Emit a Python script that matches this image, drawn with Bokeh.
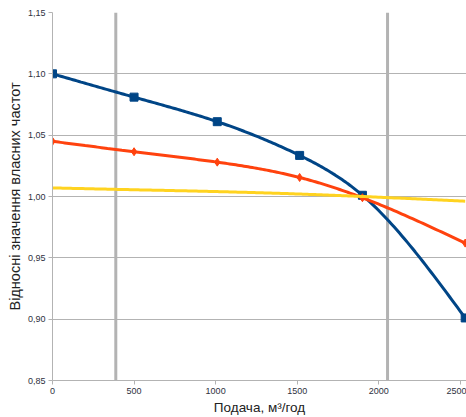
import numpy as np
from bokeh.plotting import figure
from bokeh.models import Range1d, FixedTicker, CustomJSTickFormatter, Span
from bokeh.embed import file_html
from bokeh.resources import INLINE

# Flow rate, m3/h
flow = [0, 500, 1010, 1515, 1900, 2530]
# Relative natural frequencies for the three modes
freq_blue = [1.100, 1.081, 1.061, 1.0335, 1.001, 0.901]
freq_red = [1.045, 1.0365, 1.028, 1.0155, 0.999, 0.962]
freq_yellow = [1.007, 1.0055, 1.004, 1.002, 1.000, 0.9962]
# Operating range boundaries
ref_flows = [388, 2054]

x_ticks = [0, 500, 1000, 1500, 2000, 2500]
y_ticks = [0.85, 0.90, 0.95, 1.00, 1.05, 1.10, 1.15]


def smooth(xs, ys, n=40):
    """Natural cubic spline through the points, sampled for a smooth line."""
    x = np.asarray(xs, float)
    y = np.asarray(ys, float)
    k = len(x)
    h = np.diff(x)
    A = np.zeros((k, k))
    b = np.zeros(k)
    A[0, 0] = A[-1, -1] = 1.0
    for i in range(1, k - 1):
        A[i, i - 1] = h[i - 1]
        A[i, i] = 2 * (h[i - 1] + h[i])
        A[i, i + 1] = h[i]
        b[i] = 6 * ((y[i + 1] - y[i]) / h[i] - (y[i] - y[i - 1]) / h[i - 1])
    m = np.linalg.solve(A, b)
    out_x, out_y = [], []
    for i in range(k - 1):
        t = np.linspace(x[i], x[i + 1], n, endpoint=(i == k - 2))
        a = x[i + 1] - t
        c = t - x[i]
        s = (m[i] * a ** 3 + m[i + 1] * c ** 3) / (6 * h[i]) \
            + (y[i] / h[i] - m[i] * h[i] / 6) * a \
            + (y[i + 1] / h[i] - m[i + 1] * h[i] / 6) * c
        out_x.extend(t)
        out_y.extend(s)
    return out_x, out_y


FONT = "Liberation Sans"
GRID = "#b3b3b3"

p = figure(width=466, height=417, output_backend="svg", toolbar_location=None,
           x_range=Range1d(0, 2538), y_range=Range1d(0.85, 1.15),
           min_border_left=52, min_border_right=0, min_border_top=12,
           min_border_bottom=36)
p.outline_line_color = None
p.background_fill_color = "white"
p.border_fill_color = "white"

p.xgrid.visible = False
p.ygrid.ticker = FixedTicker(ticks=y_ticks)
p.ygrid.grid_line_color = GRID
p.ygrid.grid_line_width = 1

for ax in (p.xaxis[0], p.yaxis[0]):
    ax.axis_line_color = GRID
    ax.major_tick_line_color = GRID
    ax.major_tick_out = 4
    ax.major_tick_in = 0
    ax.minor_tick_line_color = None
    ax.major_label_text_font = FONT
    ax.major_label_text_font_size = "9px"
    ax.major_label_text_color = "#2e3140"
    ax.axis_label_text_font = FONT
    ax.axis_label_text_font_style = "normal"
    ax.axis_label_text_color = "#222222"

p.xaxis.axis_label_text_font_size = "13.5px"
p.yaxis.axis_label_text_font_size = "14.5px"
p.xaxis.ticker = FixedTicker(ticks=x_ticks)
p.yaxis.ticker = FixedTicker(ticks=y_ticks)
p.yaxis.formatter = CustomJSTickFormatter(code="return tick.toFixed(2).replace('.', ',');")
p.xaxis.major_label_standoff = 3
p.yaxis.major_label_standoff = 3
p.xaxis.axis_label = "Подача, м³/год"
p.yaxis.axis_label = "Відносні значення власних частот"
p.xaxis.axis_label_standoff = 3
p.yaxis.axis_label_standoff = 2

for xv in ref_flows:
    p.add_layout(Span(location=xv, dimension="height", line_color=GRID,
                      line_width=3, level="underlay"))

BLUE = "#004586"
RED = "#ff420e"
YELLOW = "#ffd320"

bx, by = smooth(flow, freq_blue)
p.line(bx, by, line_color=BLUE, line_width=3)
p.scatter(flow, freq_blue, marker="square", size=8, fill_color=BLUE, line_color=BLUE)

rx, ry = smooth(flow, freq_red)
p.line(rx, ry, line_color=RED, line_width=3)
p.scatter(flow, freq_red, marker="diamond", size=8, fill_color=RED, line_color=RED)

yx, yy = smooth(flow, freq_yellow)
p.line(yx, yy, line_color=YELLOW, line_width=3)

open("out.html", "w").write(file_html(p, INLINE))
